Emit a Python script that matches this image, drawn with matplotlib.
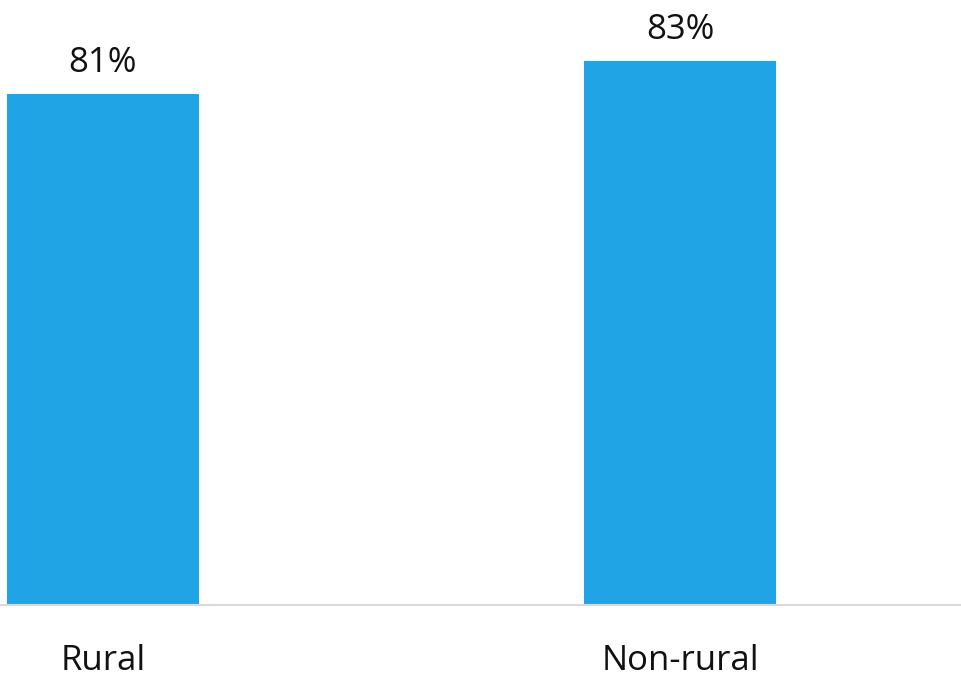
import matplotlib
matplotlib.use("Agg")
import matplotlib.pyplot as plt

categories = ["Rural", "Non-rural"]
values = [81, 83]
value_labels = ["81%", "83%"]

plt.rcParams["font.family"] = ["Open Sans", "DejaVu Sans"]

fig = plt.figure(figsize=(9.61, 6.76), dpi=100)
ax = fig.add_axes([0, 71 / 676, 1, 605 / 676])

x = list(range(len(categories)))
bars = ax.bar(x, values, width=0.333, color="#21A4E6")

ax.set_xlim(-103 / 577, (961 - 103) / 577)
ax.set_ylim(50, 50 + 605 / 16.5)

for b, lab in zip(bars, value_labels):
    ax.annotate(lab, (b.get_x() + b.get_width() / 2, b.get_height()),
                xytext=(0, 9.5), textcoords="offset points",
                ha="center", va="bottom", fontsize=25, color="#111111")

for s in ["top", "left", "right"]:
    ax.spines[s].set_visible(False)
ax.spines["bottom"].set_color("#d9d9d9")
ax.spines["bottom"].set_linewidth(1.5)

ax.set_yticks([])
ax.set_xticks(x)
ax.set_xticklabels(categories, fontsize=25, color="#111111")
ax.tick_params(axis="x", length=0, pad=28)

fig.savefig("out.png", dpi=100)
